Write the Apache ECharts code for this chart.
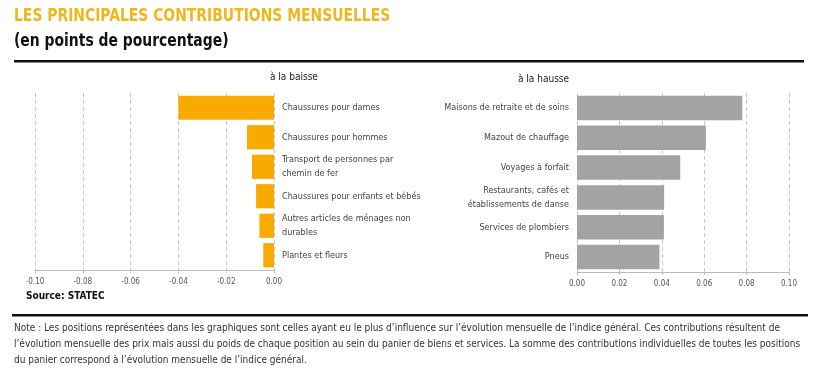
<!DOCTYPE html>
<html>
<head>
<meta charset="utf-8">
<script src="https://cdn.jsdelivr.net/npm/echarts@6/dist/echarts.min.js"></script>
<style>
html, body { margin: 0; padding: 0; background: #fff; }
#main { width: 820px; height: 377px; }
</style>
</head>
<body>
<div id="main"></div>
<script>
var FONT = "'Liberation Sans Narrow', 'DejaVu Sans Condensed', sans-serif";

// à la baisse
var downCats = [
    'Chaussures pour dames',
    'Chaussures pour hommes',
    'Transport de personnes par\nchemin de fer',
    'Chaussures pour enfants et bébés',
    'Autres articles de ménages non\ndurables',
    'Plantes et fleurs'
];
var downVals = [-0.040, -0.0113, -0.0092, -0.0075, -0.0061, -0.0045];

// à la hausse
var upCats = [
    'Maisons de retraite et de soins',
    'Mazout de chauffage',
    'Voyages à forfait',
    'Restaurants, cafés et\nétablissements de danse',
    'Services de plombiers',
    'Pneus'
];
var upVals = [0.078, 0.0608, 0.0487, 0.0411, 0.041, 0.0389];

var noteLines = [
    "Note : Les positions représentées dans les graphiques sont celles ayant eu le plus d’influence sur l’évolution mensuelle de l’indice général. Ces contributions résultent de",
    "l’évolution mensuelle des prix mais aussi du poids de chaque position au sein du panier de biens et services. La somme des contributions individuelles de toutes les positions",
    "du panier correspond à l’évolution mensuelle de l’indice général."
];

var mychart = echarts.init(document.getElementById('main'));

var valueAxis = function (gridIndex, min, max) {
    return {
        type: 'value',
        gridIndex: gridIndex,
        min: min,
        max: max,
        interval: 0.02,
        axisLine: { show: true, lineStyle: { color: '#bbbbbb' } },
        axisTick: { show: true, length: 3, lineStyle: { color: '#bbbbbb' } },
        axisLabel: {
            color: '#555',
            fontFamily: FONT,
            fontSize: 8,
            margin: 8,
            formatter: function (v) { return v.toFixed(2); }
        },
        splitLine: { show: true, lineStyle: { color: '#c8c8c8', type: [4, 3] } }
    };
};

var catAxis = function (gridIndex, data, position) {
    return {
        type: 'category',
        gridIndex: gridIndex,
        data: data,
        inverse: true,
        position: position,
        axisLine: { show: false },
        axisTick: { show: false },
        axisLabel: {
            color: '#444',
            fontFamily: FONT,
            fontSize: 9,
            lineHeight: 14,
            margin: position === 'right' ? 8 : 8,
            align: position === 'right' ? 'left' : 'right'
        }
    };
};

var graphic = [
    { type: 'text', x: 14, y: 8, scaleX: 0.91, style: { text: 'LES PRINCIPALES CONTRIBUTIONS MENSUELLES', fill: '#F0B71A', font: 'bold 17px ' + FONT } },
    { type: 'text', x: 14, y: 33, scaleX: 0.91, style: { text: '(en points de pourcentage)', fill: '#111', font: 'bold 17px ' + FONT } },
    { type: 'rect', shape: { x: 14, y: 60, width: 790, height: 2.5 }, style: { fill: '#111' } },
    { type: 'text', left: 270, top: 72, style: { text: 'à la baisse', fill: '#222', font: '10px ' + FONT } },
    { type: 'text', left: 518, top: 74, style: { text: 'à la hausse', fill: '#222', font: '10px ' + FONT } },
    { type: 'text', left: 26, top: 291, style: { text: 'Source: STATEC', fill: '#111', font: 'bold 10px ' + FONT } },
    { type: 'rect', shape: { x: 12, y: 314, width: 796, height: 2.5 }, style: { fill: '#111' } }
];
noteLines.forEach(function (t, i) {
    graphic.push({ type: 'text', left: 14, top: 323 + i * 16, style: { text: t, fill: '#333', font: '10px ' + FONT } });
});

var option = {
    animation: false,
    backgroundColor: '#fff',
    graphic: graphic,
    grid: [
        { left: 35, right: 546, top: 93, bottom: 107 },
        { left: 577, right: 31, top: 93, bottom: 105 }
    ],
    xAxis: [valueAxis(0, -0.1, 0), valueAxis(1, 0, 0.1)],
    yAxis: [catAxis(0, downCats, 'right'), catAxis(1, upCats, 'left')],
    series: [
        {
            type: 'bar',
            xAxisIndex: 0,
            yAxisIndex: 0,
            data: downVals,
            barCategoryGap: '18%',
            itemStyle: { color: '#F8AA00' }
        },
        {
            type: 'bar',
            xAxisIndex: 1,
            yAxisIndex: 1,
            data: upVals,
            barCategoryGap: '18%',
            itemStyle: { color: '#A3A3A3' }
        }
    ]
};
mychart.setOption(option);
window.addEventListener('resize', function () {
    mychart.resize();
});
</script>
</body>
</html>
